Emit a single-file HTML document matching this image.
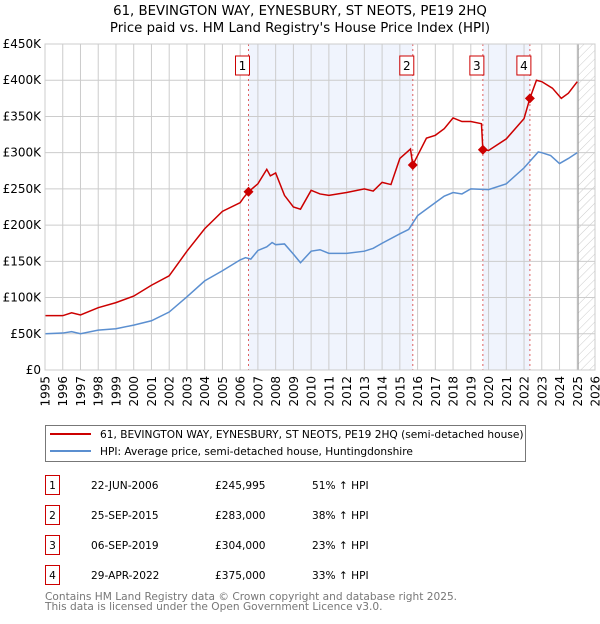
<!DOCTYPE html>
<html><head><meta charset="utf-8"><style>
body{margin:0;background:#fff;font-family:"DejaVu Sans","Liberation Sans",sans-serif;}
svg text{font-family:"DejaVu Sans","Liberation Sans",sans-serif;}
</style></head><body>
<svg id="c" width="600" height="620" xmlns="http://www.w3.org/2000/svg">
<defs><pattern id="hatch" width="6" height="6" patternUnits="userSpaceOnUse" patternTransform="rotate(45)"><line x1="0" y1="0" x2="0" y2="6" stroke="#ccc" stroke-width="1"/></pattern></defs>
<text x="300" y="15" text-anchor="middle" font-size="13.3">61, BEVINGTON WAY, EYNESBURY, ST NEOTS, PE19 2HQ</text>
<text x="300" y="32" text-anchor="middle" font-size="13.3">Price paid vs. HM Land Registry's House Price Index (HPI)</text>
<g id="plot"></g>
<g>
<rect x="45.5" y="425.5" width="480" height="36" fill="#fff" stroke="#777"/>
<line x1="50" y1="434" x2="91" y2="434" stroke="#cc0000" stroke-width="2"/>
<text x="100" y="438" font-size="10.6">61, BEVINGTON WAY, EYNESBURY, ST NEOTS, PE19 2HQ (semi-detached house)</text>
<line x1="50" y1="451" x2="91" y2="451" stroke="#5b8fd0" stroke-width="2"/>
<text x="100" y="455" font-size="10.6">HPI: Average price, semi-detached house, Huntingdonshire</text>
</g>
<g id="tbl"></g>
<text x="45" y="600" font-size="10.6" fill="#777">Contains HM Land Registry data © Crown copyright and database right 2025.</text>
<text x="45" y="610" font-size="10.6" fill="#777">This data is licensed under the Open Government Licence v3.0.</text>
</svg>
<script>
const hpiYears=[1995,1996,1996.5,1997,1998,1999,2000,2001,2002,2003,2004,2005,2006,2006.3,2006.6,2007,2007.5,2007.8,2008,2008.5,2009,2009.4,2010,2010.5,2011,2012,2013,2013.5,2014,2015,2015.5,2016,2017,2017.5,2018,2018.5,2019,2020,2021,2022,2022.8,2023,2023.5,2024,2024.5,2025];
const hpiValues=[50,51,53,50,55,57,62,68,80,101,123,137,152,155,153,165,170,176,173,174,160,148,164,166,161,161,164,168,175,188,194,213,231,240,245,243,250,249,257,279,301,300,296,285,292,300];
const priceYears=[1995,1996,1996.5,1997,1998,1999,2000,2001,2002,2003,2004,2005,2006,2006.2,2006.47,2007,2007.5,2007.7,2008,2008.5,2009,2009.4,2010,2010.5,2011,2012,2013,2013.5,2014,2014.5,2015,2015.6,2015.73,2016,2016.5,2017,2017.5,2018,2018.5,2019,2019.6,2019.68,2020,2021,2022,2022.33,2022.7,2023,2023.6,2024.1,2024.5,2025];
const priceValues=[75,75,79,76,86,93,102,117,130,164,195,219,231,238,246,257,277,268,272,241,225,222,248,243,241,245,250,247,259,256,292,305,283,296,320,324,333,348,343,343,340,304,303,319,347,375,400,398,389,375,382,398];
const saleYears=[2006.47,2015.73,2019.68,2022.33];
const saleValues=[245.995,283,304,375];
const saleDates=["22-JUN-2006","25-SEP-2015","06-SEP-2019","29-APR-2022"];
const salePrices=["£245,995","£283,000","£304,000","£375,000"];
const saleHpi=["51% ↑ HPI","38% ↑ HPI","23% ↑ HPI","33% ↑ HPI"];
const yTicks=[0,50,100,150,200,250,300,350,400,450];
const yTickLabels=["£0","£50K","£100K","£150K","£200K","£250K","£300K","£350K","£400K","£450K"];
const xTicks=[1995,1996,1997,1998,1999,2000,2001,2002,2003,2004,2005,2006,2007,2008,2009,2010,2011,2012,2013,2014,2015,2016,2017,2018,2019,2020,2021,2022,2023,2024,2025,2026];

const NS="http://www.w3.org/2000/svg";
const X0=45,X1=595,Y0=370,Y1=44;
const xs=y=>X0+(y-1995)/31*(X1-X0);
const ys=v=>Y0-v/450*(Y0-Y1);
const g=document.getElementById('plot');
function mk(tag,attrs,parent){const e=document.createElementNS(NS,tag);for(const k in attrs)e.setAttribute(k,attrs[k]);(parent||g).appendChild(e);return e;}

for(const [a,b] of [[0,1],[2,3]]){
  const r=mk('rect',{x:xs(saleYears[a]),y:Y1,width:xs(saleYears[b])-xs(saleYears[a]),height:Y0-Y1,fill:'#f0f4fd'});
  
  
}
const hx=xs(2025.05);
const h=mk('rect',{x:hx,y:Y1,width:X1-hx,height:Y0-Y1,fill:'url(#hatch)'});


yTicks.forEach((t,i)=>{
  const l=mk('line',{x1:X0,x2:X1,y1:ys(t),y2:ys(t),stroke:'#ccc','stroke-width':1});
  
  
  const tx=mk('text',{x:X0-4,y:ys(t)+4,'text-anchor':'end','font-size':12});
  tx.textContent=yTickLabels[i];
  
  
});
xTicks.forEach(t=>{
  const l=mk('line',{x1:xs(t),x2:xs(t),y1:Y1,y2:Y0,stroke:'#ccc','stroke-width':1});
  
  
  const tx=mk('text',{x:0,y:0,'text-anchor':'end','font-size':12,transform:`translate(${xs(t)+4.5},376) rotate(-90)`});
  tx.textContent=t;
  
  
});
const vl=mk('line',{x1:hx,x2:hx,y1:Y1,y2:Y0,stroke:'#999','stroke-width':1});


saleYears.forEach((s,i)=>{
  const l=mk('line',{x1:xs(s),x2:xs(s),y1:Y1,y2:Y0,stroke:'#e06060','stroke-width':1,'stroke-dasharray':'2,3'});
  
  
  const bx=mk('rect',{x:xs(s)-13,y:56,width:14,height:19,fill:'#fff',stroke:'#cc0000'});
  
  
  const t=mk('text',{x:xs(s)-6,y:70,'text-anchor':'middle','font-size':12});
  t.textContent=i+1;
  
  
});
const hp=mk('path',{d:hpiYears.map((y,i)=>(i?'L':'M')+xs(y)+','+ys(hpiValues[i])).join(''),fill:'none',stroke:'#5b8fd0','stroke-width':1.5});


const pp=mk('path',{d:priceYears.map((y,i)=>(i?'L':'M')+xs(y)+','+ys(priceValues[i])).join(''),fill:'none',stroke:'#cc0000','stroke-width':1.5});


saleYears.forEach((s,i)=>{
  const d=mk('path',{d:`M${xs(s)},${ys(saleValues[i])-5}l5,5l-5,5l-5,-5z`,fill:'#cc0000'});
  
  
});
mk('rect',{x:X0,y:Y1,width:X1-X0,height:Y0-Y1,fill:'none',stroke:'#ccc'});
const tb=document.getElementById('tbl');
const rowsY=[483,513,543,573];
saleDates.forEach((d,i)=>{
  const y=rowsY[i];
  const b=mk('rect',{x:45.5,y:y-7.5,width:14,height:19,fill:'#fff',stroke:'#cc0000'},tb);
  
  
  const cells=[[52.5,String(i+1),'middle'],[91,d,'start'],[215,salePrices[i],'start'],[312,saleHpi[i],'start']];
  cells.forEach(c=>{
    const t=mk('text',{x:c[0],y:y+6,'text-anchor':c[2],'font-size':10.6},tb);
    t.textContent=c[1];
    
    
  });
});
</script>
</body></html>
